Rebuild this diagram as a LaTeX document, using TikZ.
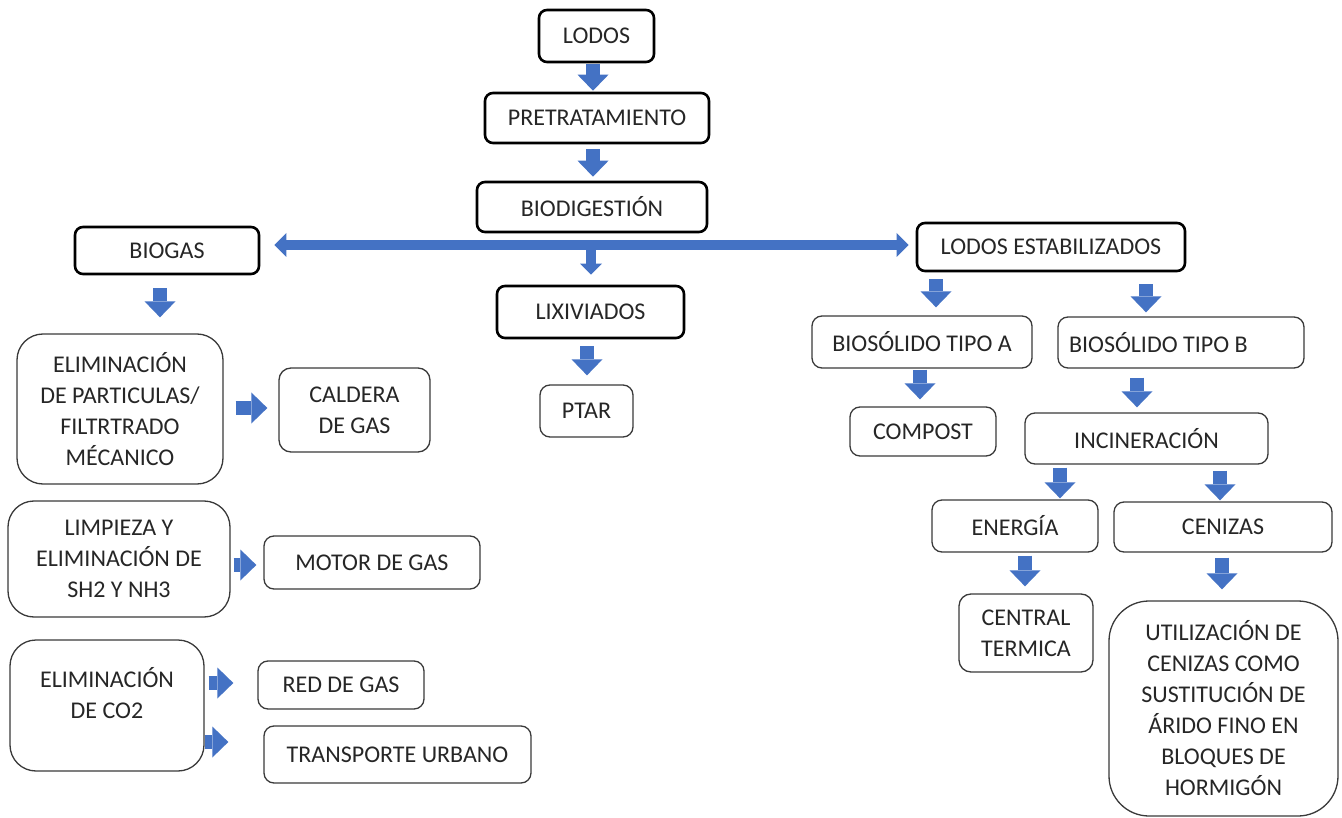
\documentclass[tikz,border=0pt]{standalone}
\usepackage{fontspec}
\setmainfont{Carlito}
\usetikzlibrary{arrows.meta,calc}
\definecolor{flowblue}{HTML}{4472C4}
\definecolor{ink}{HTML}{262626}
\definecolor{edge}{HTML}{3A3A3A}

% block arrow pointing down, between two named boxes at a given x
\newcommand\downarr[5]{\draw[blk] ($(#1.south -| #3,0)+(0,#4)$) -- ($(#2.north -| #3,0)+(0,-#5)$);}
% block arrow pointing right, between two named boxes at a given y
\newcommand\rightarr[5]{\draw[blk] ($(#1.east |- 0,#3)+(#4,0)$) -- ($(#2.west |- 0,#3)+(-#5,0)$);}

\begin{document}
\begin{tikzpicture}[x=1pt,y=-1pt,
  txt/.style={font=\fontsize{24}{31}\selectfont, text=ink, align=center, inner sep=2pt},
  heavybox/.style={txt, draw=black, line width=2.6pt, rounded corners=8pt, fill=white},
  lightbox/.style={txt, draw=edge, line width=1.3pt, rounded corners=10pt, fill=white},
  bigbox/.style={lightbox, rounded corners=26pt},
  blk/.style={draw=flowblue, line width=14pt,
    -{Triangle[width=31pt,length=16pt,line width=0pt]}},
  blksmall/.style={draw=flowblue, line width=10pt,
    -{Triangle[width=22pt,length=11pt,line width=0pt]}},
  dblarr/.style={draw=flowblue, line width=10pt,
    {Triangle[width=24pt,length=12pt,line width=0pt]}-{Triangle[width=24pt,length=12pt,line width=0pt]}},
]
\useasboundingbox (0,0) rectangle (1342,818);

% main line
\node[heavybox, minimum width=115pt, minimum height=52pt] (lodos) at (596.5,36) {LODOS};
\node[heavybox, minimum width=224pt, minimum height=50pt] (pre) at (597,118) {PRETRATAMIENTO};
\node[heavybox, minimum width=230pt, minimum height=50pt] (bio) at (592,207) {BIODIGESTIÓN};
\node[heavybox, minimum width=184pt, minimum height=47pt] (biogas) at (167,250.5) {BIOGAS};
\node[heavybox, minimum width=268pt, minimum height=48pt] (lest) at (1051,247) {LODOS ESTABILIZADOS};
\node[heavybox, minimum width=187pt, minimum height=52pt] (lix) at (590.5,312) {LIXIVIADOS};
\node[lightbox, minimum width=93pt, minimum height=52pt] (ptar) at (586.5,411) {PTAR};

% biogas branch
\node[bigbox, minimum width=206pt, minimum height=150pt] (elim) at (120,409)
  {ELIMINACIÓN\\DE PARTICULAS/\\FILTRTRADO\\MÉCANICO};
\node[lightbox, rounded corners=12pt, minimum width=151pt, minimum height=84pt] (caldera) at (354.5,410)
  {CALDERA\\DE GAS};
\node[bigbox, minimum width=222pt, minimum height=116pt] (limp) at (119,559)
  {LIMPIEZA Y\\ELIMINACIÓN DE\\SH2 Y NH3};
\node[lightbox, minimum width=216pt, minimum height=53pt] (motor) at (372,562.5) {MOTOR DE GAS};
\node[bigbox, minimum width=194pt, minimum height=131pt] (co2) at (107,705.5)
  {ELIMINACIÓN\\DE CO2\\[-6pt]\mbox{}};
\node[lightbox, minimum width=166pt, minimum height=48pt] (red) at (341,685) {RED DE GAS};
\node[lightbox, minimum width=267pt, minimum height=57pt] (trans) at (397.5,754.5) {TRANSPORTE URBANO};

% stabilised sludge branch
\node[lightbox, minimum width=220pt, minimum height=52pt] (bioa) at (922,342) {BIOSÓLIDO TIPO A};
\node[lightbox, text width=224pt, align=flush left, inner xsep=11pt, minimum height=51pt] (biob) at (1181,342.5) {BIOSÓLIDO TIPO B};
\node[lightbox, minimum width=146pt, minimum height=49pt] (compost) at (923,431.5) {COMPOST};
\node[lightbox, minimum width=243pt, minimum height=51pt] (incin) at (1146.5,438.5) {INCINERACIÓN};
\node[lightbox, minimum width=166pt, minimum height=52pt] (energia) at (1015,526) {ENERGÍA};
\node[lightbox, minimum width=218pt, minimum height=50pt] (cenizas) at (1223,527) {CENIZAS};
\node[lightbox, rounded corners=12pt, minimum width=134pt, minimum height=78pt] (central) at (1026,633)
  {CENTRAL\\TERMICA};
\node[lightbox, rounded corners=40pt, minimum width=229pt, minimum height=215pt] (util) at (1223.5,708.5)
  {UTILIZACIÓN DE\\CENIZAS COMO\\SUSTITUCIÓN DE\\ÁRIDO FINO EN\\BLOQUES DE\\HORMIGÓN};

% flows along the main line
\downarr{lodos}{pre}{593}{1}{1}
\downarr{pre}{bio}{593}{5}{4}
\draw[dblarr] ($(biogas.east |- 0,245)+(14,0)$) -- ($(lest.west |- 0,245)+(-7,0)$);
\draw[blksmall] ($(bio.south -| 591,0)+(0,16)$) -- ($(lix.north -| 591,0)+(0,-10)$);
\downarr{lix}{ptar}{587}{7}{9}

% biogas treatment
\downarr{biogas}{elim}{160}{13}{16}
\rightarr{elim}{caldera}{408}{12}{11}
\rightarr{limp}{motor}{565}{3}{7}
\rightarr{co2}{red}{683}{4}{24}
\rightarr{co2}{trans}{742}{0}{35}

% stabilised sludge
\downarr{lest}{bioa}{936}{7}{8}
\downarr{lest}{biob}{1146}{12}{4}
\downarr{bioa}{compost}{920}{1}{7}
\downarr{biob}{incin}{1137}{9}{5}
\downarr{incin}{energia}{1060}{3}{1}
\downarr{incin}{cenizas}{1220}{6}{1}
\downarr{energia}{central}{1025}{3}{7}
\downarr{cenizas}{util}{1222}{5}{11}
\end{tikzpicture}
\end{document}
